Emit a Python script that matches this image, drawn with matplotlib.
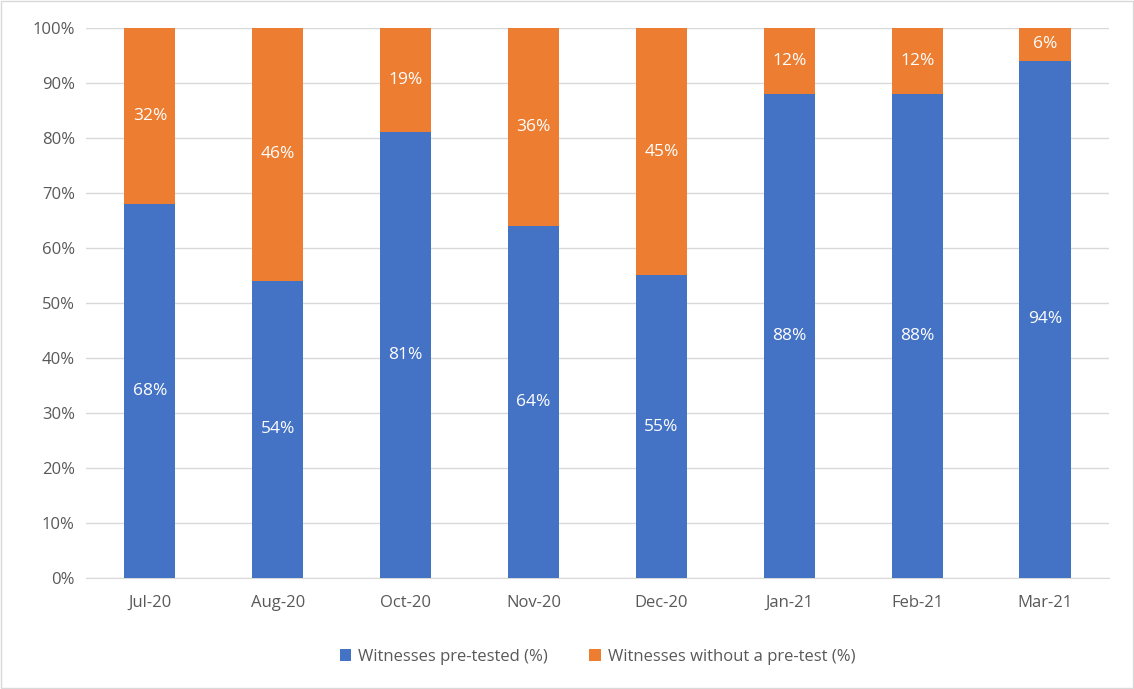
import matplotlib.pyplot as plt
import numpy as np
from matplotlib.patches import Rectangle

months = ["Jul-20", "Aug-20", "Oct-20", "Nov-20", "Dec-20", "Jan-21", "Feb-21", "Mar-21"]
pre_tested = [68, 54, 81, 64, 55, 88, 88, 94]
no_pre_test = [32, 46, 19, 36, 45, 12, 12, 6]

blue = "#4472C4"
orange = "#ED7D31"

plt.rcParams["font.family"] = ["Open Sans", "DejaVu Sans"]

fig = plt.figure(figsize=(11.34, 6.89), dpi=100)
ax = fig.add_axes([0.0758, 0.1611, 0.9021, 0.7983])

x = np.arange(len(months))
w = 0.40
ax.bar(x, pre_tested, w, color=blue, label="Witnesses pre-tested (%)", zorder=3)
ax.bar(x, no_pre_test, w, bottom=pre_tested, color=orange,
       label="Witnesses without a pre-test (%)", zorder=3)

for i in range(len(months)):
    ax.text(x[i], pre_tested[i] / 2, f"{pre_tested[i]}%", ha="center", va="center",
            color="white", fontsize=12.5, zorder=4)
    ax.text(x[i], pre_tested[i] + no_pre_test[i] / 2, f"{no_pre_test[i]}%",
            ha="center", va="center", color="white", fontsize=12.5, zorder=4)

ax.set_xlim(-0.5, len(months) - 0.5)
ax.set_ylim(0, 100)
ax.set_yticks(range(0, 101, 10))
ax.set_yticklabels([f"{v}%" for v in range(0, 101, 10)])
ax.set_xticks(x)
ax.set_xticklabels(months)
ax.tick_params(axis="both", length=0, labelsize=12, colors="#595959")
ax.tick_params(axis="x", pad=12)
ax.tick_params(axis="y", pad=8)
ax.grid(axis="y", color="#D9D9D9", linewidth=1, zorder=0)
for s in ["top", "right", "left"]:
    ax.spines[s].set_visible(False)
ax.spines["bottom"].set_color("#D9D9D9")

ax.legend(loc="lower center", bbox_to_anchor=(0.5, -0.185), ncol=2, frameon=False,
          fontsize=12, labelcolor="#595959", handlelength=0.7, handleheight=0.7,
          columnspacing=2.5, handletextpad=0.4)

fig.patches.append(Rectangle((0.001, 0.001), 0.998, 0.998, transform=fig.transFigure,
                             fill=False, edgecolor="#D9D9D9", linewidth=1))

fig.savefig("out.png", dpi=100)
